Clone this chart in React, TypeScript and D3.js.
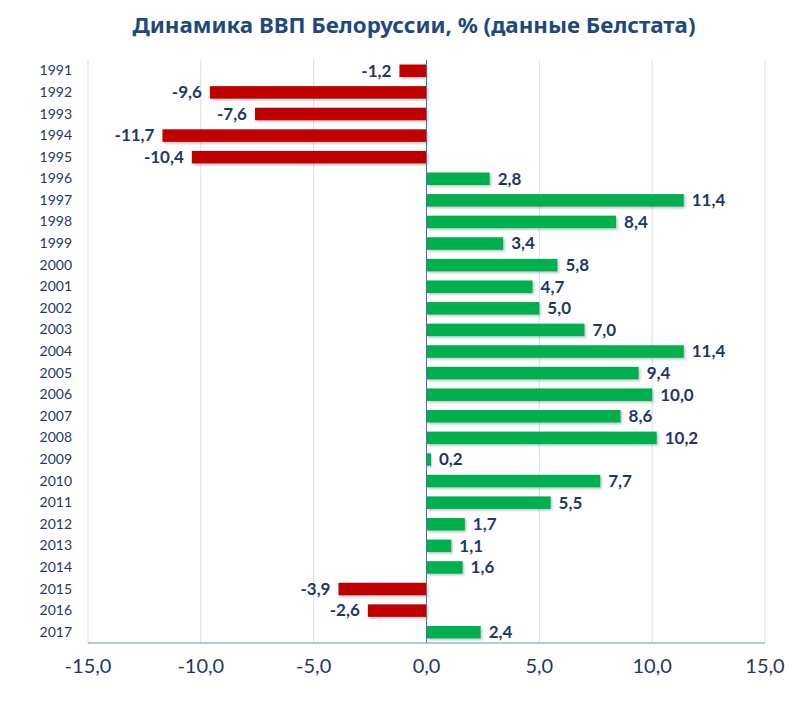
import React, { useEffect, useRef } from 'react';
import * as d3 from 'd3';

// GDP dynamics, % (Belstat)
const years = [
  '1991', '1992', '1993', '1994', '1995', '1996', '1997', '1998', '1999',
  '2000', '2001', '2002', '2003', '2004', '2005', '2006', '2007', '2008',
  '2009', '2010', '2011', '2012', '2013', '2014', '2015', '2016', '2017',
];
const growth = [
  -1.2, -9.6, -7.6, -11.7, -10.4, 2.8, 11.4, 8.4, 3.4,
  5.8, 4.7, 5.0, 7.0, 11.4, 9.4, 10.0, 8.6, 10.2,
  0.2, 7.7, 5.5, 1.7, 1.1, 1.6, -3.9, -2.6, 2.4,
];
const xTicks = [-15, -10, -5, 0, 5, 10, 15];
const title = 'Динамика ВВП Белоруссии, % (данные Белстата)';

const fmt = (v: number) => v.toFixed(1).replace('.', ',');

export default function App() {
  const svgRef = useRef<SVGSVGElement | null>(null);

  useEffect(() => {
    const width = 812;
    const height = 708;
    const margin = { top: 60, right: 47, bottom: 65, left: 88 };
    const svg = d3.select(svgRef.current);
    svg.selectAll('*').remove();

    const data = years.map((y, i) => ({ year: y, value: growth[i] }));

    const x = d3.scaleLinear().domain([-15, 15]).range([margin.left, width - margin.right]);
    const y = d3.scaleBand<string>()
      .domain(years)
      .range([margin.top, height - margin.bottom])
      .paddingInner(0.42)
      .paddingOuter(0.21);

    const textColor = '#1F3864';
    const font = 'Lato, "Noto Sans", sans-serif';

    // shadow for bars
    const defs = svg.append('defs');
    const filter = defs.append('filter').attr('id', 'shadow').attr('x', '-5%').attr('y', '-30%').attr('width', '110%').attr('height', '170%');
    filter.append('feDropShadow')
      .attr('dx', 1.5).attr('dy', 1.5).attr('stdDeviation', 1.2)
      .attr('flood-color', '#000').attr('flood-opacity', 0.25);

    // title
    svg.append('text')
      .attr('x', 414)
      .attr('y', 33)
      .attr('text-anchor', 'middle')
      .attr('fill', '#1F497D')
      .style('font-family', '"Noto Sans", sans-serif')
      .style('font-weight', 'bold')
      .style('font-size', '21px')
      .attr('textLength', 563)
      .attr('lengthAdjust', 'spacingAndGlyphs')
      .text(title);

    // vertical gridlines
    svg.append('g')
      .selectAll('line')
      .data(xTicks.filter(t => t !== 0))
      .enter()
      .append('line')
      .attr('x1', d => x(d))
      .attr('x2', d => x(d))
      .attr('y1', margin.top)
      .attr('y2', height - margin.bottom)
      .attr('stroke', '#D6DFEE')
      .attr('stroke-width', 1);

    // bars
    svg.append('g')
      .selectAll('rect')
      .data(data)
      .enter()
      .append('rect')
      .attr('x', d => x(Math.min(0, d.value)))
      .attr('y', d => y(d.year)!)
      .attr('width', d => Math.abs(x(d.value) - x(0)))
      .attr('height', y.bandwidth())
      .attr('fill', d => (d.value < 0 ? '#C00000' : '#00B050'))
      .attr('filter', 'url(#shadow)');

    // value labels
    svg.append('g')
      .selectAll('text')
      .data(data)
      .enter()
      .append('text')
      .attr('x', d => (d.value < 0 ? x(d.value) - 8 : x(d.value) + 8))
      .attr('y', d => y(d.year)! + y.bandwidth() / 2 + 1.5)
      .attr('text-anchor', d => (d.value < 0 ? 'end' : 'start'))
      .attr('dominant-baseline', 'middle')
      .attr('fill', textColor)
      .style('font-family', font)
      .style('font-weight', 'bold')
      .style('font-size', '17px')
      .text(d => fmt(d.value));

    // zero line
    svg.append('line')
      .attr('x1', x(0)).attr('x2', x(0))
      .attr('y1', margin.top).attr('y2', height - margin.bottom)
      .attr('stroke', '#4A6FB0')
      .attr('stroke-width', 1);

    // bottom axis line
    svg.append('line')
      .attr('x1', margin.left).attr('x2', width - margin.right)
      .attr('y1', height - margin.bottom).attr('y2', height - margin.bottom)
      .attr('stroke', '#6F8FC4')
      .attr('stroke-width', 1.2);

    // year labels
    svg.append('g')
      .selectAll('text')
      .data(years)
      .enter()
      .append('text')
      .attr('x', 72)
      .attr('y', d => y(d)! + y.bandwidth() / 2 + 1)
      .attr('text-anchor', 'end')
      .attr('dominant-baseline', 'middle')
      .attr('fill', textColor)
      .style('font-family', font)
      .style('font-size', '14px')
      .text(d => d);

    // x tick labels
    svg.append('g')
      .selectAll('text')
      .data(xTicks)
      .enter()
      .append('text')
      .attr('x', d => x(d))
      .attr('y', 668)
      .attr('text-anchor', 'middle')
      .attr('dominant-baseline', 'middle')
      .attr('fill', textColor)
      .style('font-family', font)
      .style('font-size', '20px')
      .text(d => fmt(d));
  }, []);

  return (
    <svg
      ref={svgRef}
      width={812}
      height={708}
      style={{ position: 'absolute', left: 0, top: 0, background: '#fff' }}
    />
  );
}
